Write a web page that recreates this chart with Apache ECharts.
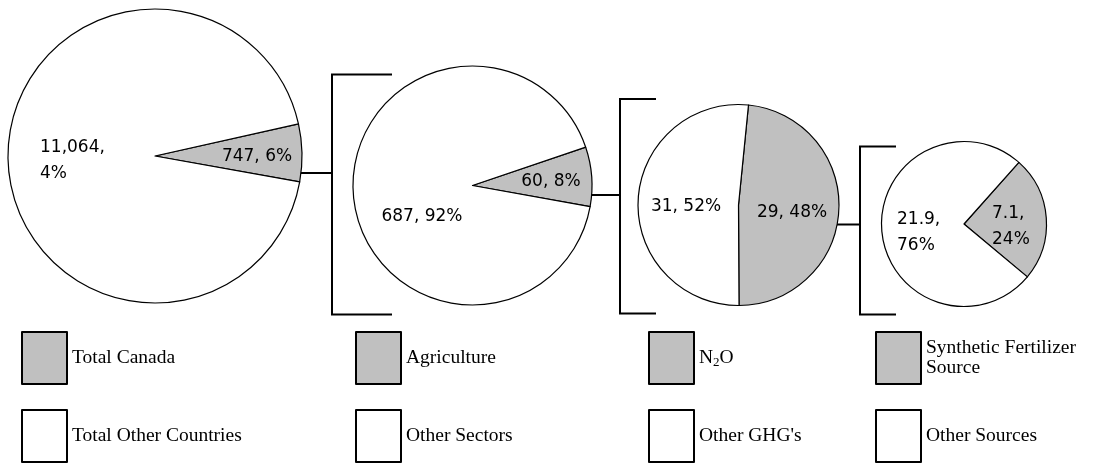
<!DOCTYPE html>
<html>
<head>
<meta charset="utf-8">
<script src="https://cdn.jsdelivr.net/npm/echarts@6/dist/echarts.min.js"></script>
<style>
  html, body { margin: 0; padding: 0; background: #fff; }
  #chart { width: 1120px; height: 463px; }
</style>
</head>
<body>
<div id="chart"></div>
<script>
// data, one pie per level, shaded slice first
const grayNames = ['Total Canada', 'Agriculture', 'N2O', 'Synthetic Fertilizer\nSource']
const otherNames = ['Total Other Countries', 'Other Sectors', "Other GHG's", 'Other Sources']
const grayValues = [747, 60, 29, 7.1]
const otherValues = [11064, 687, 31, 21.9]
// labels as printed on the original (kept verbatim)
const grayLabels = ['747, 6%', '60, 8%', '29, 48%', '7.1,\n24%']
const otherLabels = ['11,064,\n4%', '687, 92%', '31, 52%', '21.9,\n76%']

// layout
const centers = [[155, 156], [472.5, 185.5], [738.5, 205], [964, 224]]
const radii = [147, 119.5, 100.5, 82.5]
const startAngles = [12.6, 18.7, 84.3, 48.3]
// label anchors [x, y, align] : [shaded, other]
const labelAnchors = [
  [[257, 157, 'center'], [40, 161, 'left']],
  [[551, 182, 'center'], [422, 217, 'center']],
  [[792, 213, 'center'], [686, 207, 'center']],
  [[992, 227, 'left'], [897, 233, 'left']],
]
const legendLefts = [21, 355, 648, 875]
const legendTops = [331, 409]

const GRAY = '#c0c0c0'

const chart = echarts.init(document.getElementById('chart'))

const series = grayNames.map((g, i) => ({
  type: 'pie',
  center: centers[i],
  radius: radii[i],
  startAngle: startAngles[i],
  clockwise: true,
  silent: true,
  animation: false,
  avoidLabelOverlap: false,
  itemStyle: { borderColor: '#000', borderWidth: 1.2 },
  label: {
    show: true,
    position: 'inside',
    fontFamily: 'DejaVu Sans',
    fontSize: 17,
    lineHeight: 26,
    color: '#000',
    formatter: (p) => (p.dataIndex === 0 ? grayLabels[i] : otherLabels[i]),
  },
  labelLine: { show: false },
  labelLayout: (p) => {
    const a = labelAnchors[i][p.dataIndex]
    return { x: a[0], y: a[1], align: a[2], verticalAlign: 'middle' }
  },
  emphasis: { disabled: true },
  data: [
    { name: g, value: grayValues[i], itemStyle: { color: GRAY } },
    { name: otherNames[i], value: otherValues[i], itemStyle: { color: '#fff' } },
  ],
}))

// one legend per entry so the 4x2 grid lines up like the original
const legendItem = (name, col, row) => ({
  data: [name],
  left: legendLefts[col],
  top: legendTops[row],
  padding: 0,
  itemWidth: 45,
  itemHeight: 52,
  icon: 'rect',
  selectedMode: false,
  itemStyle: { borderColor: '#000', borderWidth: 2 },
  textStyle: {
    fontFamily: 'Liberation Serif',
    fontSize: 19.5,
    lineHeight: 20,
    color: '#000',
    rich: {
      n: { fontFamily: 'Liberation Serif', fontSize: 19.5, color: '#000' },
      s: { fontFamily: 'Liberation Serif', fontSize: 13, color: '#000', padding: [10, 0, 0, 0] },
    },
  },
  formatter: (n) => (n === 'N2O' ? '{n|N}{s|2}{n|O}' : n),
})
const legend = []
grayNames.forEach((g, i) => {
  legend.push(legendItem(g, i, 0))
  legend.push(legendItem(otherNames[i], i, 1))
})

// connector lines and brackets between the pies
const line = (points) => ({
  type: 'polyline',
  silent: true,
  shape: { points },
  style: { stroke: '#000', lineWidth: 2, fill: null },
})

chart.setOption({
  animation: false,
  legend,
  series,
  graphic: [
    line([[272, 173], [332, 173]]),
    line([[392, 74.5], [332, 74.5], [332, 314.5], [392, 314.5]]),
    line([[583, 195], [620, 195]]),
    line([[656, 99], [620, 99], [620, 313.5], [656, 313.5]]),
    line([[823, 224.5], [860, 224.5]]),
    line([[896, 146.5], [860, 146.5], [860, 314.5], [896, 314.5]]),
  ],
})
</script>
</body>
</html>
